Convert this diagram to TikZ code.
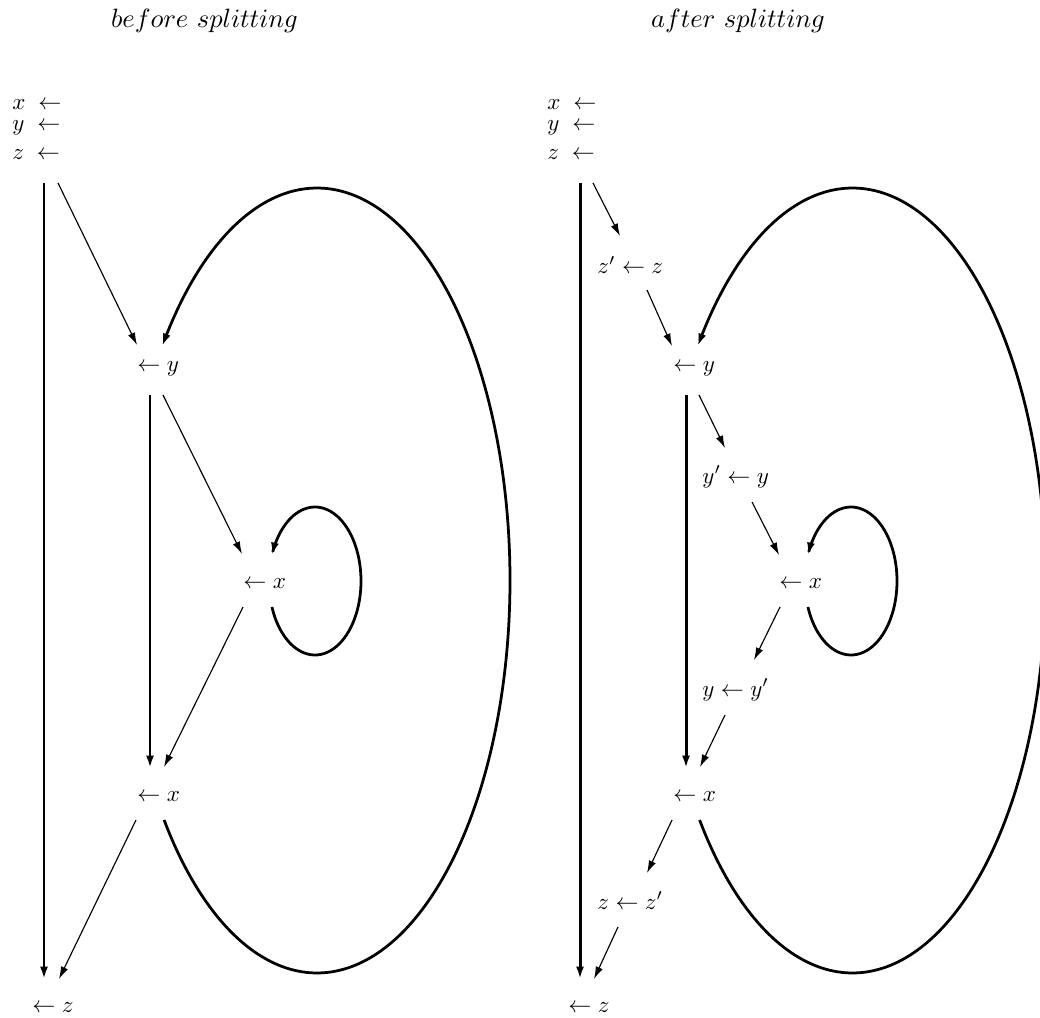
\RequirePackage{fix-cm}
\documentclass[tikz,border=0pt]{standalone}
\usetikzlibrary{arrows.meta}
\begin{document}
\begin{tikzpicture}[x=0.4348pt,y=-0.4348pt,
 lbl/.style={inner sep=0pt,anchor=base west},
 ttl/.style={inner sep=0pt,anchor=base,font=\fontsize{11.5}{14}\selectfont},
 thinarr/.style={line width=0.5pt,-{Latex[length=5.4pt,width=3.3pt]}},
 thickarr/.style={line width=1.3pt,-{Latex[length=5.4pt,width=3.5pt]}},
 curvearr/.style={line width=1.2pt,-{Latex[length=5.4pt,width=3.5pt]}}]
\useasboundingbox (0,0) rectangle (1040,1018);
% ---------- left ----------
\node[ttl] (tL) at (204.5,28) {$before\ splitting$};
\node[lbl] (xL) at (12,110) {$x\;\leftarrow$};
\node[lbl] (yL) at (12,131) {$y\;\leftarrow$};
\node[lbl] (zL) at (12,160) {$z\;\leftarrow$};
\node[lbl] (ayL) at (137,371) {$\leftarrow y$};
\node[lbl] (axL) at (243,588) {$\leftarrow x$};
\node[lbl] (bxL) at (137,801) {$\leftarrow x$};
\node[lbl] (azL) at (32,1012) {$\leftarrow z$};
\coordinate (L1s) at (44,183);  \coordinate (L1e) at (44,979);
\coordinate (L2s) at (58,183);  \coordinate (L2e) at (137,345);
\coordinate (L3s) at (150,395); \coordinate (L3e) at (150,768);
\coordinate (L4s) at (163,395); \coordinate (L4e) at (242,554);
\coordinate (L5s) at (243,607); \coordinate (L5e) at (164,767);
\coordinate (L6s) at (136,820); \coordinate (L6e) at (59,979);
\draw[thickarr] (L1s) -- (L1e);
\draw[thinarr] (L2s) -- (L2e);
\draw[thickarr] (L3s) -- (L3e);
\draw[thinarr] (L4s) -- (L4e);
\draw[thinarr] (L5s) -- (L5e);
\draw[thinarr] (L6s) -- (L6e);
\draw[curvearr] plot[domain=142.4:-143.3,samples=120,smooth] ({317+193*cos(\x)},{580.5+392.5*sin(\x)});
\draw[curvearr] plot[domain=159.4:-159.4,samples=80,smooth] ({315+46*cos(\x)},{581+74*sin(\x)});
% ---------- right ----------
\node[ttl] (tR) at (738,28) {$after\ splitting$};
\node[lbl] (xR) at (547,110) {$x\;\leftarrow$};
\node[lbl] (yR) at (547,131) {$y\;\leftarrow$};
\node[lbl] (zR) at (547,160) {$z\;\leftarrow$};
\node[lbl] (zzR) at (597,274) {$z'\leftarrow z$};
\node[lbl] (ayR) at (673,371) {$\leftarrow y$};
\node[lbl] (yyR) at (702,483) {$y'\leftarrow y$};
\node[lbl] (axR) at (779,588) {$\leftarrow x$};
\node[lbl] (yyR2) at (702,696) {$y\leftarrow y'$};
\node[lbl] (bxR) at (673,801) {$\leftarrow x$};
\node[lbl] (zzR2) at (597,909) {$z\leftarrow z'$};
\node[lbl] (azR) at (568,1012) {$\leftarrow z$};
\coordinate (R1s) at (580,183);  \coordinate (R1e) at (580,979);
\coordinate (R2s) at (593,183);  \coordinate (R2e) at (620,236);
\coordinate (R3s) at (647,290);  \coordinate (R3e) at (672,346);
\coordinate (R4s) at (686,395);  \coordinate (R4e) at (686,768);
\coordinate (R5s) at (699,395);  \coordinate (R5e) at (725,448);
\coordinate (R6s) at (752,502);  \coordinate (R6e) at (779,555);
\coordinate (R7s) at (780,607);  \coordinate (R7e) at (754,660);
\coordinate (R8s) at (725,715);  \coordinate (R8e) at (700,767);
\coordinate (R9s) at (672,820);  \coordinate (R9e) at (647,873);
\coordinate (R10s) at (618,927); \coordinate (R10e) at (594,979);
\draw[thickarr] (R1s) -- (R1e);
\draw[thinarr] (R2s) -- (R2e);
\draw[thinarr] (R3s) -- (R3e);
\draw[thickarr] (R4s) -- (R4e);
\draw[thinarr] (R5s) -- (R5e);
\draw[thinarr] (R6s) -- (R6e);
\draw[thinarr] (R7s) -- (R7e);
\draw[thinarr] (R8s) -- (R8e);
\draw[thinarr] (R9s) -- (R9e);
\draw[thinarr] (R10s) -- (R10e);
\draw[curvearr] plot[domain=142.4:-143.3,samples=120,smooth] ({852.5+193*cos(\x)},{580.5+392.5*sin(\x)});
\draw[curvearr] plot[domain=159.4:-159.4,samples=80,smooth] ({851+46*cos(\x)},{581+74*sin(\x)});
\end{tikzpicture}
\end{document}
